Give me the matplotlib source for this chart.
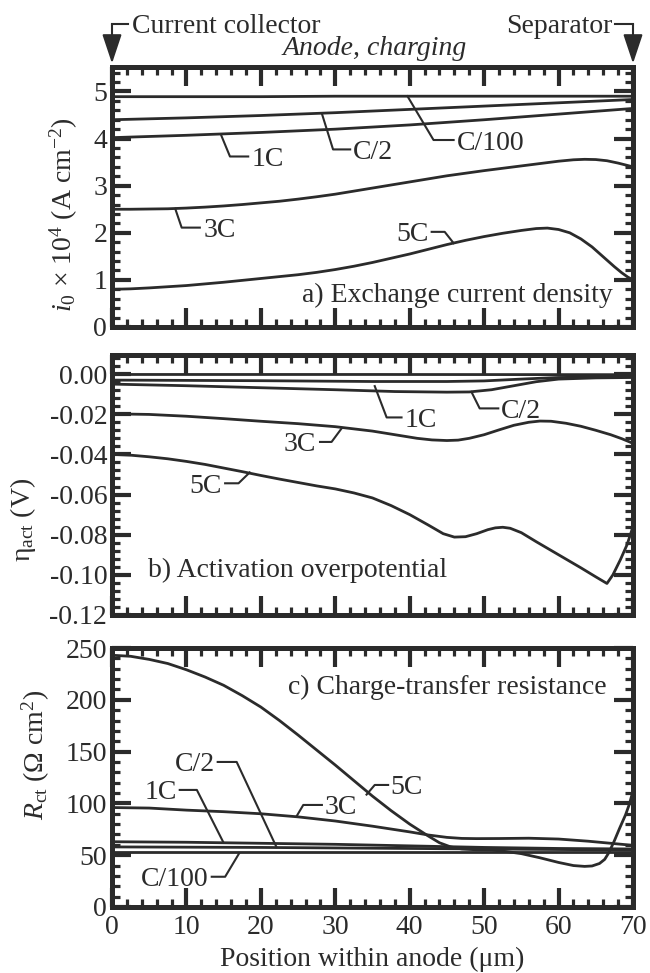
import matplotlib
matplotlib.use("Agg")
import matplotlib.pyplot as plt
from matplotlib.lines import Line2D
from matplotlib.patches import FancyArrowPatch
from matplotlib.ticker import MultipleLocator

plt.rcParams["font.family"] = ["Liberation Serif", "DejaVu Serif"]
plt.rcParams["mathtext.fontset"] = "custom"
plt.rcParams["mathtext.rm"] = "Liberation Serif"
plt.rcParams["mathtext.it"] = "Liberation Serif:italic"

INK = "#2b2b2b"
W, H = 650, 973

# ---- a) exchange current density, i0 x 10^4 (A cm-2) ----
a_x_c100 = [0, 10, 20, 30, 40, 50, 60, 70]
a_c100 = [4.89, 4.89, 4.89, 4.90, 4.90, 4.90, 4.90, 4.90]
a_x_c2 = [0, 10, 20, 30, 40, 50, 60, 70]
a_c2 = [4.40, 4.44, 4.49, 4.55, 4.62, 4.69, 4.76, 4.83]
a_x_1c = [0, 10, 20, 30, 40, 50, 60, 70]
a_1c = [4.02, 4.07, 4.13, 4.20, 4.29, 4.40, 4.52, 4.64]
a_x_3c = [0, 2.5, 5, 7.5, 10, 12.5, 15, 17.5, 20, 22.5, 25, 27.5, 30, 32.5,
          35, 37.5, 40, 42.5, 45, 47.5, 50, 52.5, 55, 57.5, 60, 62, 63.5,
          65, 66.5, 68, 69, 70]
a_3c = [2.50, 2.50, 2.505, 2.51, 2.525, 2.545, 2.57, 2.60, 2.635, 2.67,
        2.715, 2.765, 2.82, 2.885, 2.95, 3.015, 3.08, 3.145, 3.21, 3.265,
        3.32, 3.37, 3.42, 3.47, 3.52, 3.55, 3.56, 3.555, 3.53, 3.48, 3.44,
        3.40]
a_x_5c = [0, 2.5, 5, 7.5, 10, 12.5, 15, 17.5, 20, 22.5, 25, 27.5, 30, 32.5,
          35, 37.5, 40, 42.5, 45, 47.5, 50, 52.5, 55, 57, 58.5, 60, 61.5, 63,
          64.5, 66, 67.5, 68.5, 69.3, 70]
a_5c = [0.80, 0.81, 0.83, 0.855, 0.88, 0.915, 0.95, 0.99, 1.03, 1.07, 1.11,
        1.16, 1.22, 1.29, 1.37, 1.46, 1.55, 1.65, 1.75, 1.84, 1.92, 1.99,
        2.05, 2.09, 2.10, 2.07, 2.00, 1.87, 1.70, 1.49, 1.28, 1.15, 1.06,
        1.00]

# ---- b) activation overpotential (V) ----
b_x_c100 = [0, 35, 70]
b_c100 = [-0.0002, -0.0002, -0.0003]
b_x_c2 = [0, 20, 35, 45, 50, 55, 60, 70]
b_c2 = [-0.0030, -0.0033, -0.0037, -0.0037, -0.0034, -0.0025, -0.0017, -0.0013]
b_x_1c = [0, 10, 20, 30, 38, 45, 48, 51, 54, 57, 60, 65, 70]
b_1c = [-0.0050, -0.0058, -0.0068, -0.0078, -0.0087, -0.0090, -0.0089,
        -0.0078, -0.0058, -0.0038, -0.0025, -0.0019, -0.0017]
b_x_3c = [0, 5, 10, 15, 20, 25, 30, 35, 38, 41, 43, 45, 46.5, 48, 50, 52,
          54, 56, 57.5, 59, 61, 63, 65, 67, 68.5, 70]
b_3c = [-0.0198, -0.0201, -0.0210, -0.0222, -0.0235, -0.0247, -0.0262,
        -0.0284, -0.0302, -0.0320, -0.0328, -0.0331, -0.0329, -0.0320,
        -0.0302, -0.0278, -0.0255, -0.0240, -0.0234, -0.0235, -0.0245,
        -0.0260, -0.0280, -0.0302, -0.0322, -0.0345]
b_x_5c = [0, 2.5, 5, 7.5, 10, 12.5, 15, 17.5, 20, 22.5, 25, 27.5, 30, 32.5,
          35, 37.5, 40, 42.5, 44.5, 46, 47.5, 49, 50.5, 51.5, 52.5, 53.5, 55,
          57, 60, 63, 65, 66.5, 67.3, 68.3, 69.2, 70]
b_5c = [-0.0400, -0.0404, -0.0412, -0.0422, -0.0435, -0.0450, -0.0468,
        -0.0486, -0.0505, -0.0523, -0.0540, -0.0557, -0.0572, -0.0592,
        -0.0617, -0.0655, -0.0700, -0.0752, -0.0795, -0.0812, -0.0810,
        -0.0795, -0.0775, -0.0766, -0.0763, -0.0768, -0.0790, -0.0835,
        -0.0900, -0.0965, -0.1010, -0.1043, -0.1000, -0.0925, -0.0850,
        -0.0760]

# ---- c) charge-transfer resistance (Ohm cm2) ----
c_x_c100 = [0, 35, 70]
c_c100 = [53.0, 53.0, 53.0]
c_x_c2 = [0, 20, 40, 60, 70]
c_c2 = [58.0, 57.5, 56.5, 55.5, 55.0]
c_x_1c = [0, 10, 20, 30, 40, 50, 60, 70]
c_1c = [63.0, 62.5, 61.5, 60.5, 59.0, 57.5, 56.5, 56.0]
c_x_3c = [0, 5, 10, 15, 20, 25, 30, 35, 40, 42.5, 45, 47, 49, 52, 56, 60,
          64, 67, 70]
c_3c = [96.0, 95.5, 93.5, 92.0, 90.0, 87.0, 83.0, 78.0, 72.5, 69.5, 67.2,
        66.2, 66.0, 66.1, 66.4, 65.6, 63.5, 61.5, 59.5]
c_x_5c = [0, 2.5, 5, 7.5, 10, 12.5, 15, 17.5, 20, 22.5, 25, 27.5, 30, 32.5,
          35, 37.5, 40, 42.5, 44, 45.5, 47, 49, 51, 53, 55, 57.5, 60, 62,
          63.5, 64.5, 65.5, 66.2, 66.8, 67.5, 68.2, 69, 69.5, 70]
c_5c = [243, 242, 239, 235, 229, 222, 214, 204, 193, 180, 166, 151.5, 137,
        122, 107, 93, 80, 68.5, 62, 58, 56, 55.2, 55, 53.5, 51.5, 47.5, 43,
        40, 39.2, 39.6, 42, 46, 53, 64, 76, 89, 99, 112]

# leader label layout: text, polyline (data coords), text anchor, ha
LEADERS_A = [
    ("1C", [(14.7, 4.06), (15.85, 3.62), (18.3, 3.62)], (18.8, 3.62), "left"),
    ("3C", [(8.5, 2.51), (9.36, 2.11), (11.8, 2.11)], (12.3, 2.11), "left"),
    ("C/2", [(28.2, 4.53), (29.7, 3.77), (32.0, 3.77)], (32.3, 3.77), "left"),
    ("C/100", [(39.7, 4.90), (43.2, 3.97), (45.9, 3.97)], (46.3, 3.97), "left"),
    ("5C", [(42.95, 2.02), (44.7, 2.02), (45.9, 1.78)], (42.6, 2.02), "right"),
]
LEADERS_B = [
    ("1C", [(35.3, -0.0060), (36.9, -0.0216), (38.9, -0.0216)], (39.3, -0.0216), "left"),
    ("C/2", [(48.3, -0.0089), (49.4, -0.0171), (51.9, -0.0171)], (52.2, -0.0171), "left"),
    ("3C", [(27.95, -0.0338), (29.5, -0.0338), (30.9, -0.0268)], (27.4, -0.0338), "right"),
    ("5C", [(15.2, -0.0544), (17.0, -0.0544), (18.5, -0.0490)], (14.8, -0.0544), "right"),
]
LEADERS_C = [
    ("C/2", [(14.2, 140.0), (16.75, 140.0), (22.1, 57.8)], (13.9, 140.0), "right"),
    ("1C", [(9.1, 113.0), (11.4, 113.0), (14.95, 62.6)], (8.7, 113.0), "right"),
    ("C/100", [(13.4, 29.2), (15.2, 29.2), (17.1, 52.0)], (13.0, 29.2), "right"),
    ("3C", [(24.8, 87.6), (25.7, 98.5), (28.2, 98.5)], (28.5, 98.5), "left"),
    ("5C", [(34.2, 108.5), (35.3, 117.8), (37.1, 117.8)], (37.4, 117.8), "left"),
]

FS = 20


def style_axes(ax, ymin, ymax, ymajor, yminor, xlabels):
    ax.set_xlim(0, 70)
    ax.set_ylim(ymin, ymax)
    ax.xaxis.set_major_locator(MultipleLocator(10))
    ax.xaxis.set_minor_locator(MultipleLocator(2))
    ax.yaxis.set_major_locator(MultipleLocator(ymajor))
    ax.yaxis.set_minor_locator(MultipleLocator(yminor))
    ax.tick_params(which="both", direction="in", top=True, right=True,
                   color=INK, labelcolor=INK, labelsize=FS)
    ax.tick_params(which="major", length=14, width=3.0)
    ax.tick_params(which="minor", length=6, width=2.3)
    ax.tick_params(axis="y", pad=3.5)
    ax.tick_params(axis="x", pad=6, labelbottom=xlabels)
    for sp in ax.spines.values():
        sp.set_linewidth(3.6)
        sp.set_color(INK)


def draw_leaders(ax, leaders):
    for text, pts, (tx, ty), ha in leaders:
        xs = [p[0] for p in pts]
        ys = [p[1] for p in pts]
        ax.plot(xs, ys, color=INK, lw=1.5, clip_on=False)
        ax.text(tx, ty, text, ha=ha, va="center_baseline", fontsize=FS,
                color=INK)


fig = plt.figure(figsize=(W / 100, H / 100), dpi=100)


def add_axes(top_px, bottom_px):
    return fig.add_axes([112 / W, 1 - bottom_px / H, 521 / W,
                         (bottom_px - top_px) / H])


ax_a = add_axes(67, 327)
ax_b = add_axes(355, 615)
ax_c = add_axes(648, 907)

for x, y in [(a_x_c100, a_c100), (a_x_c2, a_c2), (a_x_1c, a_1c),
             (a_x_3c, a_3c), (a_x_5c, a_5c)]:
    ax_a.plot(x, y, color=INK, lw=2.0, clip_on=False)
for x, y in [(b_x_c100, b_c100), (b_x_c2, b_c2), (b_x_1c, b_1c),
             (b_x_3c, b_3c), (b_x_5c, b_5c)]:
    ax_b.plot(x, y, color=INK, lw=2.0, clip_on=False)
for x, y in [(c_x_c100, c_c100), (c_x_c2, c_c2), (c_x_1c, c_1c),
             (c_x_3c, c_3c), (c_x_5c, c_5c)]:
    ax_c.plot(x, y, color=INK, lw=2.0, clip_on=False)

style_axes(ax_a, 0, 5.52, 1, 0.2, False)
style_axes(ax_b, -0.12, 0.0095, 0.02, 0.004, False)
style_axes(ax_c, 0, 250, 50, 10, True)
ax_b.yaxis.set_major_formatter(plt.FuncFormatter(lambda v, p: f"{v:.2f}"))

draw_leaders(ax_a, LEADERS_A)
draw_leaders(ax_b, LEADERS_B)
draw_leaders(ax_c, LEADERS_C)

ax_a.text(67.3, 0.53, "a) Exchange current density", ha="right",
          va="baseline", fontsize=FS, color=INK)
ax_b.text(4.8, -0.101, "b) Activation overpotential", ha="left",
          va="baseline", fontsize=FS, color=INK)
ax_c.text(66.5, 205.6, "c) Charge-transfer resistance", ha="right",
          va="baseline", fontsize=FS, color=INK)

ax_a.set_ylabel(r"$i_0$ × 10$^4$ (A cm$^{-2}$)", fontsize=FS, color=INK)
ax_b.set_ylabel(r"$\mathrm{η}_\mathrm{act}$ (V)", fontsize=FS, color=INK)
ax_c.set_ylabel(r"$R_\mathrm{ct}$ (Ω cm$^2$)", fontsize=FS, color=INK)
ax_a.yaxis.set_label_coords(-0.061, 0.43)
ax_b.yaxis.set_label_coords(-0.142, 0.365)
ax_c.yaxis.set_label_coords(-0.115, 0.587)
ax_c.set_xlabel("Position within anode (μm)", fontsize=FS, color=INK,
                labelpad=5)


def fxy(px, py):
    return px / W, 1 - py / H


# header with bracket arrows
fig.text(*fxy(131.5, 33), "Current collector", ha="left", va="baseline",
         fontsize=FS, color=INK)
fig.text(*fxy(613, 33), "Separator", ha="right", va="baseline",
         fontsize=FS, color=INK)
fig.text(*fxy(375, 55), "Anode, charging", ha="center", va="baseline",
         fontsize=FS, color=INK, style="italic")
for x0, x1 in [(128, 112), (615, 633)]:
    fig.add_artist(Line2D([x0 / W, x1 / W], [1 - 24 / H, 1 - 24 / H],
                          transform=fig.transFigure, color=INK, lw=1.5))
    fig.add_artist(FancyArrowPatch(
        fxy(x1, 24), fxy(x1, 63.5), transform=fig.transFigure,
        arrowstyle="-|>,head_length=0.9,head_width=0.3", mutation_scale=20,
        color=INK, lw=1.5, shrinkA=0, shrinkB=0))

fig.savefig("out.png", dpi=100)
